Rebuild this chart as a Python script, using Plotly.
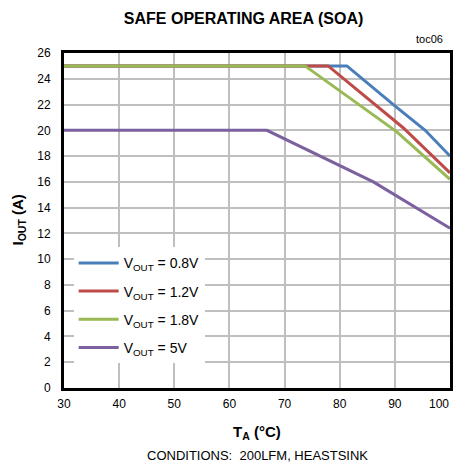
import plotly.graph_objects as go

# Data
ta_08 = [30, 81.3, 90, 95.5, 100]
iout_08 = [25, 25, 21.9, 20.0, 18.0]

ta_12 = [30, 77.9, 91.5, 100]
iout_12 = [25, 25, 20.2, 16.7]

ta_18 = [30, 73.7, 90.3, 100]
iout_18 = [25, 25, 19.9, 16.2]

ta_5 = [30, 66.8, 86.1, 100]
iout_5 = [20, 20, 16.0, 12.4]

names = ["V<sub>OUT</sub> = 0.8V", "V<sub>OUT</sub> = 1.2V",
         "V<sub>OUT</sub> = 1.8V", "V<sub>OUT</sub> = 5V"]
colors = ["#4a7ebb", "#be4b48", "#98b954", "#7d60a0"]

x_ticks = [30, 40, 50, 60, 70, 80, 90, 100]
y_ticks = list(range(0, 27, 2))

FONT = "Liberation Sans Narrow, Arial Narrow, Liberation Sans, Arial, sans-serif"

# the last x label is right-aligned to the axis end (as in the reference),
# so it is drawn as an annotation at that tick value
x_ticktext = [str(v) for v in x_ticks]
last_label = x_ticktext[-1]
x_ticktext[-1] = ""

fig = go.Figure()
series = [(ta_08, iout_08), (ta_12, iout_12), (ta_18, iout_18), (ta_5, iout_5)]
for i, ((x, y), n, c) in enumerate(zip(series, names, colors)):
    fig.add_trace(go.Scatter(x=x, y=y, mode="lines", name=n,
                             line=dict(color=c, width=3),
                             legendgroup=f"g{i}"))

# page body has an 8px default margin, so the figure is sized to fit the window
fig.update_layout(
    width=453, height=462,
    margin=dict(l=56, r=11, t=45, b=82, autoexpand=False),
    paper_bgcolor="white", plot_bgcolor="white",
    font=dict(family=FONT, color="black", size=12),
    showlegend=True,
    legend=dict(x=0.025, y=0.42, xanchor="left", yanchor="top",
                bgcolor="white", borderwidth=0,
                font=dict(family=FONT, size=14, color="black"),
                tracegroupgap=7, itemwidth=40,
                entrywidth=215, entrywidthmode="pixels"),
    xaxis=dict(range=[30, 100], tickvals=x_ticks, ticktext=x_ticktext, showgrid=True,
               gridcolor="#bfbfbf", gridwidth=1.5,
               showline=True, linecolor="black", linewidth=3, mirror=True,
               ticks="", tickfont=dict(size=12), zeroline=False, automargin=False,
               ticklabelstandoff=3),
    yaxis=dict(range=[0, 26], tickvals=y_ticks, showgrid=True,
               gridcolor="#bfbfbf", gridwidth=1.5,
               showline=True, linecolor="black", linewidth=3, mirror=True,
               ticks="", tickfont=dict(size=12), zeroline=False, automargin=False,
               ticklabelstandoff=8),
    title=dict(text="<b>SAFE OPERATING AREA (SOA)</b>", x=0.52, xanchor="center",
               y=0.978, yanchor="middle", font=dict(size=16)),
)

fig.add_annotation(text=last_label, xref="x", yref="paper", x=x_ticks[-1], y=0,
                   xanchor="right", yanchor="middle", yshift=-16, xshift=1,
                   showarrow=False, font=dict(size=12))
fig.add_annotation(text="toc06", xref="paper", yref="paper", x=1.0, y=1.0,
                   xanchor="right", yanchor="bottom", yshift=6, xshift=-5,
                   showarrow=False, font=dict(size=11))
fig.add_annotation(text="<b>T<sub>A</sub> (°C)</b>", xref="paper", yref="paper",
                   x=0.5, y=0, xanchor="center", yanchor="middle", yshift=-44,
                   showarrow=False, font=dict(size=15))
fig.add_annotation(text="<b>I<sub>OUT</sub> (A)</b>", xref="paper", yref="paper",
                   x=0, y=0.5, xanchor="center", yanchor="middle", xshift=-46,
                   textangle=-90, showarrow=False, font=dict(size=15))
fig.add_annotation(text="CONDITIONS:  200LFM, HEASTSINK", xref="paper", yref="paper",
                   x=0.5, y=0, xanchor="center", yanchor="middle", yshift=-67,
                   showarrow=False, font=dict(size=13))

fig.write_html("out.html")
